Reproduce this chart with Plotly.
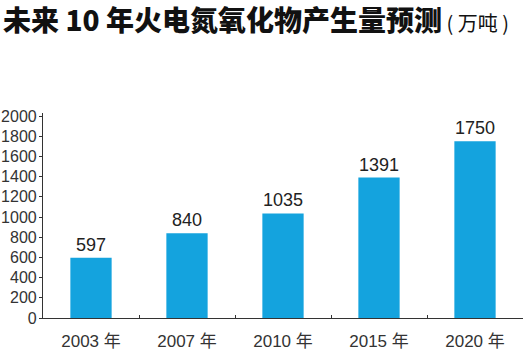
import plotly.graph_objects as go

categories = ["2003 年", "2007 年", "2010 年", "2015 年", "2020 年"]
values = [597, 840, 1035, 1391, 1750]
y_ticks = [0, 200, 400, 600, 800, 1000, 1200, 1400, 1600, 1800, 2000]

bar_color = "#14A3DE"
font_fam = "Liberation Sans, Arial, sans-serif"

fig = go.Figure(go.Bar(
    x=categories, y=values,
    marker=dict(color=bar_color, line=dict(width=0)),
    width=0.43,
    text=[str(v) for v in values],
    textposition="outside",
    textfont=dict(family=font_fam, size=18, color="#222"),
    cliponaxis=False,
))

fig.update_layout(
    width=529, height=353,
    margin=dict(l=43, r=6, t=113, b=35, autoexpand=False),
    paper_bgcolor="white", plot_bgcolor="white",
    showlegend=False,
    annotations=[dict(
        x=0, xref="paper", xanchor="left", xshift=-42,
        y=1, yref="paper", yanchor="bottom", yshift=72,
        text="<span style='font-weight:900'>未来 10 年火电氮氧化物产生量预测</span>"
             "<span style='font-size:20px;font-weight:400'> ( 万吨 )</span>",
        showarrow=False,
        font=dict(family="Noto Sans CJK SC", size=28, color="#111"),
    )],
)

fig.update_xaxes(
    showline=True, linecolor="#333", linewidth=1.2,
    ticks="inside", ticklen=3, tickcolor="#333", tickson="boundaries",
    tickfont=dict(family="Liberation Sans, Noto Sans CJK SC", size=17, color="#333"),
    ticklabelstandoff=7,
    showgrid=False, zeroline=False, automargin=False,
)
fig.update_yaxes(
    range=[0, 2030],
    tickvals=y_ticks,
    showline=True, linecolor="#333", linewidth=1.2,
    ticks="outside", ticklen=3, tickcolor="#333",
    tickfont=dict(family=font_fam, size=16, color="#333"),
    ticklabelstandoff=-1,
    showgrid=False, zeroline=False, automargin=False,
)

fig.write_html("out.html")
